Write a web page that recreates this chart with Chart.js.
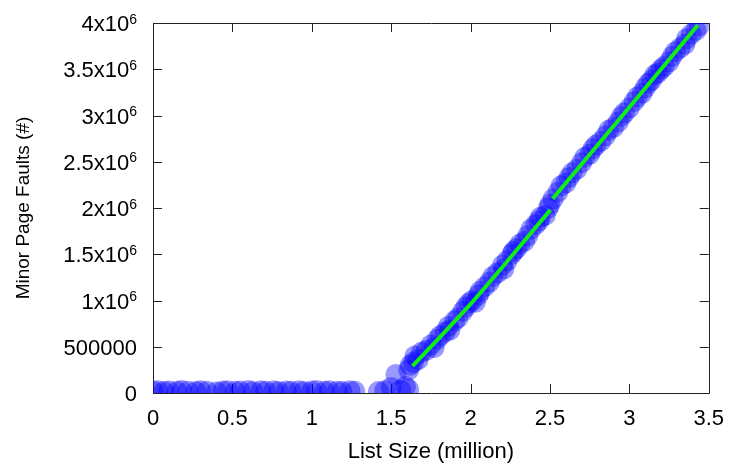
<!DOCTYPE html>
<html>
<head>
<meta charset="utf-8">
<script src="https://cdn.jsdelivr.net/npm/chart.js@4"></script>
<style>
  html, body { margin: 0; padding: 0; background: #fff; }
  #wrap { width: 737px; height: 470px; }
</style>
</head>
<body>
<div id="wrap"><canvas id="c" width="737" height="470"></canvas></div>
<script>
// ---- data ----
const pointX = [
  0.00,0.03,0.07,0.10,0.15,0.18,0.22,0.27,0.30,0.34,0.40,0.44,0.47,0.52,0.55,0.60,0.63,0.68,
  0.71,0.76,0.79,0.84,0.87,0.92,0.95,1.00,1.03,1.08,1.11,1.16,1.19,1.24,1.27,
  1.42,1.46,1.50,1.53,1.56,1.59,1.61,
  1.61,1.62,1.64,1.65,1.67,1.69,1.72,1.75,1.77,1.79,1.81,1.84,1.86,1.87,1.90,1.92,1.95,1.97,
  1.99,2.01,2.03,2.05,2.06,2.09,2.12,2.14,2.17,2.20,2.21,2.23,2.26,2.27,2.29,2.31,2.34,2.36,
  2.38,2.41,2.43,2.44,2.47,2.49,2.50,2.52,2.55,2.57,2.60,2.62,2.64,2.67,2.70,2.72,2.75,2.77,
  2.79,2.82,2.85,2.87,2.90,2.93,2.95,2.97,3.00,3.03,3.05,3.08,3.10,3.12,3.14,3.16,3.18,3.20,
  3.22,3.25,3.27,3.29,3.32,3.35,3.36,3.39,3.42,3.44
];
const pointY = [
  20000,25000,15000,22000,18000,26000,20000,15000,24000,19000,12000,22000,25000,18000,21000,26000,17000,23000,
  20000,25000,16000,22000,19000,24000,15000,21000,26000,18000,23000,20000,17000,24000,19000,
  15000,25000,60000,200000,30000,70000,40000,
  250000,300000,330000,400000,360000,440000,460000,520000,490000,580000,620000,660000,720000,680000,780000,810000,880000,930000,
  970000,1000000,980000,1060000,1100000,1150000,1200000,1260000,1300000,1380000,1340000,1430000,1500000,1530000,1560000,1610000,1640000,1700000,
  1770000,1820000,1860000,1900000,1920000,2000000,2040000,2100000,2170000,2240000,2270000,2330000,2380000,2420000,2490000,2550000,2580000,2640000,
  2680000,2720000,2780000,2840000,2870000,2930000,2990000,3030000,3080000,3150000,3200000,3240000,3300000,3350000,3380000,3440000,3460000,3500000,
  3530000,3580000,3640000,3690000,3730000,3770000,3830000,3880000,3920000,3970000
];
const fit1X = [1.634, 1.8, 2.0, 2.2, 2.4, 2.503];
const fit1Y = [290000, 590000, 960000, 1360000, 1770000, 1980000];
const fit2X = [2.517, 3.0, 3.431];
const fit2Y = [2100000, 3090000, 3975000];

const xTickValues = [0, 0.5, 1, 1.5, 2, 2.5, 3, 3.5];
const xTickLabels = ['0', '0.5', '1', '1.5', '2', '2.5', '3', '3.5'];
const yTickValues = [0, 500000, 1000000, 1500000, 2000000, 2500000, 3000000, 3500000, 4000000];
const yTickMain   = ['0', '500000', '1x10', '1.5x10', '2x10', '2.5x10', '3x10', '3.5x10', '4x10'];
const yTickSup    = ['', '', '6', '6', '6', '6', '6', '6', '6'];

const xTitle = 'List Size (million)';
const yTitle = 'Minor Page Faults (#)';

// ---- build ----
const FONT = "'Liberation Sans', Arial, Helvetica, sans-serif";
const pts = pointX.map((x, i) => ({ x: x, y: pointY[i] }));
const seg1 = fit1X.map((x, i) => ({ x: x, y: fit1Y[i] }));
const seg2 = fit2X.map((x, i) => ({ x: x, y: fit2Y[i] }));

const framePlugin = {
  id: 'frame',
  beforeDatasetsDraw(chart) {
    const { ctx, chartArea: a, scales } = chart;
    ctx.save();
    ctx.strokeStyle = '#222';
    ctx.lineWidth = 1;
    ctx.beginPath();
    ctx.rect(Math.round(a.left) + 0.5, Math.round(a.top) + 0.5,
             Math.round(a.right - a.left), Math.round(a.bottom - a.top));
    ctx.stroke();
    const L = 9;
    ctx.beginPath();
    xTickValues.forEach(v => {
      const px = Math.round(scales.x.getPixelForValue(v)) + 0.5;
      ctx.moveTo(px, a.bottom); ctx.lineTo(px, a.bottom - L);
      ctx.moveTo(px, a.top); ctx.lineTo(px, a.top + L);
    });
    yTickValues.forEach(v => {
      const py = Math.round(scales.y.getPixelForValue(v)) + 0.5;
      ctx.moveTo(a.left, py); ctx.lineTo(a.left + L, py);
      ctx.moveTo(a.right, py); ctx.lineTo(a.right - L, py);
    });
    ctx.stroke();
    ctx.restore();
  },
  afterDraw(chart) {
    const { ctx, chartArea: a, scales } = chart;
    ctx.save();
    ctx.fillStyle = '#000';
    ctx.textBaseline = 'alphabetic';
    const rightEdge = a.left - 16;
    yTickValues.forEach((v, i) => {
      const py = scales.y.getPixelForValue(v);
      let x = rightEdge;
      if (yTickSup[i]) {
        ctx.font = '14px ' + FONT;
        ctx.textAlign = 'right';
        ctx.fillText(yTickSup[i], x, py + 0.5);
        x -= ctx.measureText(yTickSup[i]).width;
      }
      ctx.font = '22px ' + FONT;
      ctx.textAlign = 'right';
      ctx.fillText(yTickMain[i], x, py + 8);
    });
    ctx.restore();
  }
};

new Chart(document.getElementById('c'), {
  type: 'scatter',
  data: {
    datasets: [
      { type: 'line', data: seg1, borderColor: '#11ee11', borderWidth: 4, pointRadius: 0, fill: false, tension: 0, clip: 0 },
      { type: 'line', data: seg2, borderColor: '#11ee11', borderWidth: 4, pointRadius: 0, fill: false, tension: 0, clip: 0 },
      { data: pts, backgroundColor: 'rgba(0,0,255,0.4)', borderWidth: 0, pointRadius: 10.5, pointHoverRadius: 10.5, clip: 0 }
    ]
  },
  options: {
    responsive: false,
    animation: false,
    events: [],
    layout: { padding: { top: 23, right: 25, left: 0, bottom: 0 } },
    plugins: { legend: { display: false }, tooltip: { enabled: false } },
    scales: {
      x: {
        type: 'linear', min: 0, max: 3.5,
        afterFit(s) { s.height = 77; },
        afterBuildTicks(s) { s.ticks = xTickValues.map(v => ({ value: v })); },
        grid: { display: false, drawTicks: false },
        border: { display: false },
        ticks: {
          padding: 13, color: '#000', maxRotation: 0, autoSkip: false,
          font: { family: FONT, size: 22 },
          callback: (v) => { const i = xTickValues.indexOf(v); return i >= 0 ? xTickLabels[i] : ''; }
        },
        title: { display: true, text: xTitle, color: '#000', font: { family: FONT, size: 22 }, padding: { top: 0, bottom: 5 } }
      },
      y: {
        type: 'linear', min: 0, max: 4000000,
        afterFit(s) { s.width = 153; },
        afterBuildTicks(s) { s.ticks = yTickValues.map(v => ({ value: v })); },
        grid: { display: false, drawTicks: false },
        border: { display: false },
        ticks: { display: false },
        title: { display: true, text: yTitle, color: '#000', font: { family: FONT, size: 19 }, padding: { top: 12, bottom: 0 } }
      }
    }
  },
  plugins: [framePlugin]
});
</script>
</body>
</html>
